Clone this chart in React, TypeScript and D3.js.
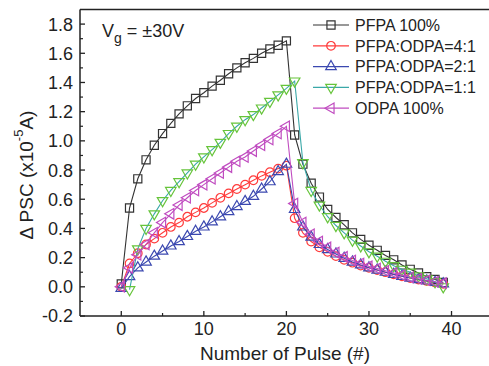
import React from 'react';
import * as d3 from 'd3';

// pulse numbers
const pulses = [
  0, 1, 2, 3, 4, 5, 6, 7, 8, 9, 10, 11, 12, 13, 14, 15, 16, 17, 18, 19, 20,
  21, 22, 23, 24, 25, 26, 27, 28, 29, 30, 31, 32, 33, 34, 35, 36, 37, 38, 39,
];
const pulsesGreen = [
  1, 2, 3, 4, 5, 6, 7, 8, 9, 10, 11, 12, 13, 14, 15, 16, 17, 18, 19, 20, 21,
  22, 23, 24, 25, 26, 27, 28, 29, 30, 31, 32, 33, 34, 35, 36, 37, 38, 39,
];

// delta PSC values (x10^-5 A)
const pfpa100 = [
  0.02, 0.54, 0.74, 0.87, 0.97, 1.05, 1.12, 1.185, 1.24, 1.29, 1.33, 1.375, 1.415, 1.46, 1.5, 1.535, 1.565, 1.6, 1.63, 1.655, 1.685,
  1.04, 0.84, 0.71, 0.615, 0.53, 0.475, 0.425, 0.37, 0.325, 0.285, 0.25, 0.215, 0.185, 0.15, 0.12, 0.095, 0.07, 0.05, 0.03,
];
const ratio41 = [
  0, 0.16, 0.23, 0.29, 0.33, 0.37, 0.41, 0.44, 0.48, 0.51, 0.54, 0.575, 0.61, 0.64, 0.67, 0.7, 0.73, 0.76, 0.785, 0.81, 0.83,
  0.47, 0.37, 0.31, 0.27, 0.24, 0.21, 0.185, 0.165, 0.145, 0.13, 0.115, 0.1, 0.085, 0.072, 0.06, 0.05, 0.04, 0.03, 0.02,
];
const ratio21 = [
  -0.01, 0.07, 0.13, 0.17, 0.21, 0.245, 0.28, 0.31, 0.345, 0.38, 0.41, 0.445, 0.48, 0.515, 0.55, 0.585, 0.62, 0.67, 0.72, 0.79, 0.84,
  0.53, 0.41, 0.34, 0.29, 0.255, 0.225, 0.195, 0.17, 0.15, 0.13, 0.115, 0.1, 0.085, 0.072, 0.06, 0.05, 0.04, 0.03, 0.02,
];
const ratio11 = [
  -0.02, 0.26, 0.4, 0.5, 0.59, 0.66, 0.72, 0.78, 0.84, 0.89, 0.94, 0.99, 1.05, 1.1, 1.145, 1.18, 1.225, 1.27, 1.315, 1.36, 1.41,
  0.85, 0.66, 0.56, 0.48, 0.42, 0.37, 0.32, 0.28, 0.24, 0.21, 0.175, 0.145, 0.12, 0.1, 0.075, 0.055, 0.035, 0.0,
];
const odpa100 = [
  0, 0.13, 0.22, 0.29, 0.37, 0.44, 0.5, 0.56, 0.61, 0.66, 0.7, 0.74, 0.78, 0.82, 0.86, 0.89, 0.93, 0.97, 1.01, 1.05, 1.1,
  0.57, 0.44, 0.36, 0.31, 0.27, 0.235, 0.205, 0.18, 0.16, 0.14, 0.125, 0.11, 0.095, 0.08, 0.065, 0.055, 0.045, 0.035, 0.025,
];

const xTicks = [0, 10, 20, 30, 40];
const xMinor = [5, 15, 25, 35];
const yTicks = [-0.2, 0, 0.2, 0.4, 0.6, 0.8, 1.0, 1.2, 1.4, 1.6, 1.8];
const yMinor = [-0.1, 0.1, 0.3, 0.5, 0.7, 0.9, 1.1, 1.3, 1.5, 1.7];

type Marker = 'square' | 'circle' | 'up' | 'down' | 'left';

const series: { name: string; xs: number[]; ys: number[]; line: string; mark: string; marker: Marker }[] = [
  { name: 'PFPA 100%', xs: pulses, ys: pfpa100, line: '#333333', mark: '#333333', marker: 'square' },
  { name: 'PFPA:ODPA=4:1', xs: pulses, ys: ratio41, line: '#ff3b3b', mark: '#ff3b3b', marker: 'circle' },
  { name: 'PFPA:ODPA=2:1', xs: pulses, ys: ratio21, line: '#3b48b0', mark: '#3b48b0', marker: 'up' },
  { name: 'PFPA:ODPA=1:1', xs: pulsesGreen, ys: ratio11, line: '#3aa8a8', mark: '#66c43a', marker: 'down' },
  { name: 'ODPA 100%', xs: pulses, ys: odpa100, line: '#c04cc0', mark: '#c04cc0', marker: 'left' },
];

const W = 489;
const H = 366;
const left = 80;
const top = 9.5;
const bottom = 316;

const x = d3.scaleLinear().domain([-5, 45]).range([left, 492.8]);
const y = d3.scaleLinear().domain([-0.2, 1.9]).range([bottom, top]);

const font = '"Liberation Sans", Arial, Helvetica, sans-serif';
const ink = '#222';

const symbolPath = (m: Marker) => {
  if (m === 'square') return d3.symbol(d3.symbolSquare, 66)() as string;
  if (m === 'circle') return d3.symbol(d3.symbolCircle, 58)() as string;
  return d3.symbol(d3.symbolTriangle, 48)() as string;
};
const rot = (m: Marker) => (m === 'down' ? 180 : m === 'left' ? -90 : 0);

const MarkerShape: React.FC<{ m: Marker; cx: number; cy: number; color: string }> = ({ m, cx, cy, color }) => (
  <path
    d={symbolPath(m)}
    transform={`translate(${cx},${cy}) rotate(${rot(m)})`}
    fill="none"
    stroke={color}
    strokeWidth={1.2}
  />
);

const fmt = (v: number) => d3.format('.1f')(v).replace('−', '-');

export default function App() {
  const line = d3
    .line<[number, number]>()
    .x((d) => x(d[0]))
    .y((d) => y(d[1]));

  return (
    <svg
      width={W}
      height={H}
      style={{ position: 'absolute', left: 0, top: 0, background: '#fff' }}
      fontFamily={font}
    >
      {/* frame */}
      <line x1={left} x2={W} y1={top} y2={top} stroke={ink} strokeWidth={1.5} />
      <line x1={left} x2={W} y1={bottom} y2={bottom} stroke={ink} strokeWidth={1.5} />
      <line x1={left} x2={left} y1={top} y2={bottom} stroke={ink} strokeWidth={1.5} />

      {/* y ticks */}
      {yTicks.map((t) => (
        <g key={'y' + t}>
          <line x1={left} x2={left + 5} y1={y(t)} y2={y(t)} stroke={ink} strokeWidth={1.3} />
          <text x={73} y={y(t)} dy="0.36em" textAnchor="end" fontSize={18} fill={ink}>
            {fmt(t)}
          </text>
        </g>
      ))}
      {yMinor.map((t) => (
        <line key={'ym' + t} x1={left} x2={left + 3} y1={y(t)} y2={y(t)} stroke={ink} strokeWidth={1.2} />
      ))}

      {/* x ticks */}
      {xTicks.map((t) => (
        <g key={'x' + t}>
          <line x1={x(t)} x2={x(t)} y1={bottom} y2={bottom - 5} stroke={ink} strokeWidth={1.3} />
          <text x={x(t)} y={335} textAnchor="middle" fontSize={18} fill={ink}>
            {t}
          </text>
        </g>
      ))}
      {xMinor.map((t) => (
        <line key={'xm' + t} x1={x(t)} x2={x(t)} y1={bottom} y2={bottom - 3} stroke={ink} strokeWidth={1.2} />
      ))}

      {/* axis titles */}
      <text x={285} y={360} textAnchor="middle" fontSize={19} fill={ink}>
        Number of Pulse (#)
      </text>
      <text transform="translate(33,175) rotate(-90)" textAnchor="middle" fontSize={19} fill={ink}>
        Δ PSC (x10
        <tspan fontSize={13} dy={-10}>-5</tspan>
        <tspan dy={10}>A)</tspan>
      </text>

      {/* annotation */}
      <text x={102} y={37} fontSize={18} fill={ink}>
        V<tspan fontSize={14} dy={6}>g</tspan>
        <tspan dy={-6}> = ±30V</tspan>
      </text>

      {/* data */}
      {series.map((s) => {
        const pts = s.xs.map((v, i) => [v, s.ys[i]] as [number, number]);
        return (
          <g key={s.name}>
            <path d={line(pts) as string} fill="none" stroke={s.line} strokeWidth={1.1} />
            {pts.map((p, i) => (
              <MarkerShape key={i} m={s.marker} cx={x(p[0])} cy={y(p[1])} color={s.mark} />
            ))}
          </g>
        );
      })}

      {/* legend */}
      {series.map((s, i) => {
        const ly = 25 + i * 20.8;
        return (
          <g key={'lg' + s.name}>
            <line x1={313} x2={349} y1={ly} y2={ly} stroke={s.line} strokeWidth={1.2} />
            <MarkerShape m={s.marker} cx={331} cy={ly} color={s.mark} />
            <text x={355} y={ly} dy="0.36em" fontSize={16} fill={ink}>
              {s.name}
            </text>
          </g>
        );
      })}
    </svg>
  );
}
